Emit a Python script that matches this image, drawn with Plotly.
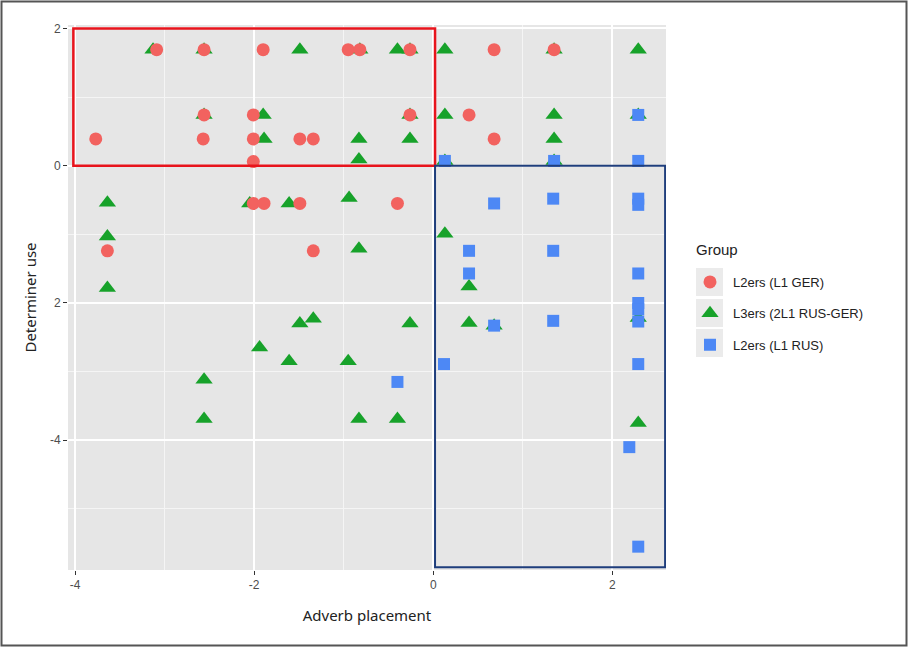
import plotly.graph_objects as go

# ---- data ----
ger_x = [-3.09, -2.56, -1.90, -0.95, -0.82, -0.26, 0.68, 1.35,
         -2.56, -2.01, -0.26, 0.40,
         -3.77, -2.57, -2.01, -1.49, -1.34, 0.68,
         -2.01,
         -2.01, -1.89, -1.49, -0.40,
         -3.64, -1.34]
ger_y = [1.69, 1.69, 1.69, 1.69, 1.69, 1.69, 1.69, 1.69,
         0.74, 0.74, 0.74, 0.74,
         0.39, 0.39, 0.39, 0.39, 0.39, 0.39,
         0.06,
         -0.55, -0.55, -0.55, -0.55,
         -1.24, -1.24]

rg_x = [-3.13, -2.56, -1.49, -0.82, -0.40, -0.26, 0.13, 1.35, 2.29,
        -2.56, -1.90, -0.26, 0.13, 1.35, 2.29,
        -1.89, -0.83, -0.26, 1.35,
        -0.83, 0.13, 1.35,
        -3.64, -2.05, -1.61, -0.94,
        0.13, -3.64, -0.83, -3.64, 0.40,
        -1.49, -1.34, -0.26, 0.40, 0.68, 2.29,
        -1.94, -1.61, -0.95,
        -2.56, -2.56, -0.83, -0.40, 2.29]
rg_y = [1.69, 1.69, 1.69, 1.69, 1.69, 1.69, 1.69, 1.69, 1.69,
        0.74, 0.74, 0.74, 0.74, 0.74, 0.74,
        0.39, 0.39, 0.39, 0.39,
        0.09, 0.07, 0.07,
        -0.54, -0.55, -0.55, -0.47,
        -0.99, -1.03, -1.21, -1.78, -1.76,
        -2.30, -2.23, -2.30, -2.29, -2.33, -2.22,
        -2.65, -2.85, -2.85,
        -3.12, -3.69, -3.69, -3.69, -3.75]

rus_x = [0.13, 1.35, 2.29, 2.29,
         0.68, 1.34, 2.29, 2.29,
         0.40, 1.34, 0.40, 2.29,
         2.29, 2.29, 2.29, 1.34, 0.68,
         0.12, 2.29, -0.40, 2.19, 2.29]
rus_y = [0.07, 0.07, 0.07, 0.74,
         -0.55, -0.48, -0.48, -0.57,
         -1.24, -1.24, -1.57, -1.57,
         -2.00, -2.09, -2.27, -2.26, -2.33,
         -2.89, -2.89, -3.15, -4.10, -5.55]

group_names = ["L2ers (L1 GER)", "L3ers (2L1 RUS-GER)", "L2ers (L1 RUS)"]
colors = ["#F2625F", "#17A22A", "#4D88F5"]

x_ticks = [-4, -2, 0, 2]
x_ticktext = ["-4", "-2", "0", "2"]
y_ticks = [2, 0, -2, -4]
y_ticktext = ["2", "0", "2", "-4"]

W, H = 908, 647
L, R, T, B = 68, 666, 25, 570

fig = go.Figure()
fig.add_trace(go.Scatter(x=rg_x, y=rg_y, mode="markers", name=group_names[1],
                         legendrank=2, legendgroup="b",
                         marker=dict(symbol="triangle-up", size=15, color=colors[1])))
fig.add_trace(go.Scatter(x=ger_x, y=ger_y, mode="markers", name=group_names[0],
                         legendrank=1, legendgroup="a",
                         marker=dict(symbol="circle", size=13, color=colors[0])))
fig.add_trace(go.Scatter(x=rus_x, y=rus_y, mode="markers", name=group_names[2],
                         legendrank=3, legendgroup="c",
                         marker=dict(symbol="square", size=12, color=colors[2])))

def px_x(p):
    return (p - L) / (R - L)

def px_y(p):
    return (B - p) / (B - T)

shapes = [
    dict(type="rect", xref="x", yref="y", x0=-4.02, x1=0.02, y0=0.0, y1=2.0,
         line=dict(color="#E8141C", width=2.5)),
    dict(type="rect", xref="x", yref="y", x0=0.02, x1=2.59, y0=-5.85, y1=0.0,
         line=dict(color="#1F3E7C", width=2)),
    dict(type="rect", xref="paper", yref="paper", x0=px_x(1.5), x1=px_x(906.5),
         y0=px_y(645.5), y1=px_y(1.5), line=dict(color="#555555", width=2)),
]
# legend key backgrounds
for cy in [282, 313, 343]:
    shapes.append(dict(type="rect", xref="paper", yref="paper", layer="below",
                       x0=px_x(696), x1=px_x(723), y0=px_y(cy + 14), y1=px_y(cy - 14),
                       fillcolor="#EBEBEB", line=dict(width=0)))

fig.update_layout(
    width=W, height=H,
    margin=dict(l=L, r=W - R, t=T, b=H - B),
    paper_bgcolor="white",
    plot_bgcolor="#E6E6E6",
    font=dict(family="Liberation Sans, Arial, sans-serif", color="#333333"),
    shapes=shapes,
    annotations=[dict(text="Group", xref="paper", yref="paper", x=px_x(694), y=px_y(250),
                      xanchor="left", yanchor="middle", showarrow=False,
                      font=dict(size=15, color="#222222"))],
    legend=dict(x=px_x(687), y=px_y(267), xanchor="left", yanchor="top",
                font=dict(size=13, color="#222222"), itemwidth=36,
                tracegroupgap=11.5, bgcolor="rgba(0,0,0,0)"),
    xaxis=dict(range=[-4.08, 2.60], tickvals=x_ticks, ticktext=x_ticktext,
               showgrid=True, gridcolor="white", gridwidth=1.5,
               minor=dict(dtick=1, tick0=-3, showgrid=True, gridcolor="#F5F5F5", gridwidth=0.7),
               zeroline=False, ticks="outside", ticklen=4, tickcolor="#333333",
               tickfont=dict(size=12, color="#4D4D4D"),
               title=dict(text="Adverb placement", standoff=19,
                          font=dict(family="Noto Sans, sans-serif", size=15, color="#222222"))),
    yaxis=dict(range=[-5.89, 2.05], tickvals=y_ticks, ticktext=y_ticktext,
               showgrid=True, gridcolor="white", gridwidth=1.5,
               minor=dict(dtick=1, tick0=-5, showgrid=True, gridcolor="#F5F5F5", gridwidth=0.7),
               zeroline=False, ticks="outside", ticklen=4, tickcolor="#333333",
               tickfont=dict(size=12, color="#4D4D4D"),
               title=dict(text="Determiner use", standoff=9,
                          font=dict(family="Noto Sans, sans-serif", size=15, color="#222222"))),
)

fig.write_html("out.html", config={"displayModeBar": False},
               post_script="document.body.style.margin='0';document.body.style.overflow='hidden';")
